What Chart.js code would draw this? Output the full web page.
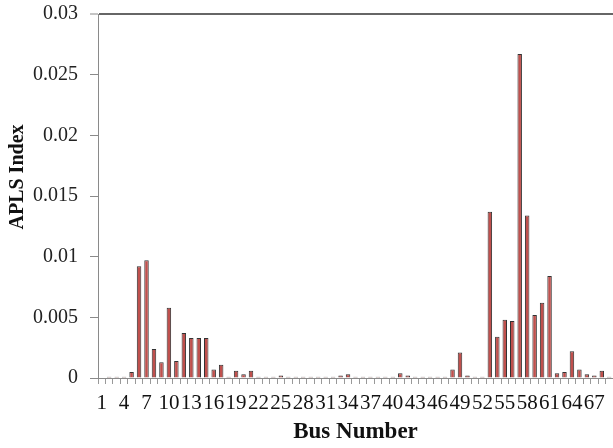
<!DOCTYPE html>
<html>
<head>
<meta charset="utf-8">
<script src="https://cdn.jsdelivr.net/npm/chart.js@4"></script>
<style>
  html, body { margin: 0; padding: 0; background: #fff; overflow: hidden; }
  #wrap { width: 613px; height: 448px; }
</style>
</head>
<body>
<div id="wrap"><canvas id="chart" width="613" height="448"></canvas></div>
<script>
const busNumbers = [
  1, 2, 3, 4, 5, 6, 7, 8, 9, 10, 11, 12, 13, 14, 15, 16, 17, 18, 19, 20,
  21, 22, 23, 24, 25, 26, 27, 28, 29, 30, 31, 32, 33, 34, 35, 36, 37, 38, 39, 40,
  41, 42, 43, 44, 45, 46, 47, 48, 49, 50, 51, 52, 53, 54, 55, 56, 57, 58, 59, 60,
  61, 62, 63, 64, 65, 66, 67, 68, 69
];

const aplsIndex = [
  0, 0.0001, 0.0001, 0.0001, 0.0005, 0.0092, 0.0097, 0.0024, 0.0013, 0.0058,
  0.0014, 0.0037, 0.0033, 0.0033, 0.0033, 0.0007, 0.0011, 0.0001, 0.0006, 0.0003,
  0.0006, 0.0001, 0.0001, 0.0001, 0.0002, 0.0001, 0.0001, 0.0001, 0.0001, 0.0001,
  0.0001, 0.0001, 0.0002, 0.0003, 0.0001, 0.0001, 0.0001, 0.0001, 0.0001, 0.0001,
  0.0004, 0.0002, 0.0001, 0.0001, 0.0001, 0.0001, 0.0001, 0.0007, 0.0021, 0.0002,
  0.0001, 0.0001, 0.0137, 0.0034, 0.0048, 0.0047, 0.0267, 0.0134, 0.0052, 0.0062,
  0.0084, 0.0004, 0.0005, 0.0022, 0.0007, 0.0003, 0.0002, 0.0006, 0.0001
];

const yMin = 0, yMax = 0.03, yStep = 0.005;
const labelEvery = 3;

const serif = '"Liberation Serif", "Times New Roman", serif';

// rotated y title, drawn a bit above the plot centre like the original
const yTitlePlugin = {
  id: 'yTitle',
  afterDraw(chart) {
    const c = chart.ctx;
    c.save();
    c.translate(18, 177);
    c.rotate(-Math.PI / 2);
    c.font = 'bold 20px ' + serif;
    c.fillStyle = '#111';
    c.textAlign = 'center';
    c.textBaseline = 'middle';
    c.fillText('APLS Index', 0, 0);
    c.restore();
  }
};

new Chart(document.getElementById('chart'), {
  type: 'bar',
  data: {
    labels: busNumbers,
    datasets: [{
      data: aplsIndex,
      backgroundColor: '#C0504D',
      borderColor: '#333',
      borderWidth: 1,
      barPercentage: 0.6,
      categoryPercentage: 1
    }]
  },
  options: {
    responsive: false,
    animation: false,
    layout: { padding: { top: 14, right: 0, bottom: 0, left: 0 } },
    plugins: { legend: { display: false }, tooltip: { enabled: false } },
    scales: {
      x: {
        offset: true,
        grid: { display: true, offset: true, drawOnChartArea: false, tickLength: 6, color: '#999', lineWidth: 1 },
        border: { display: true, color: '#8a8a8a', width: 1 },
        ticks: {
          autoSkip: false, maxRotation: 0, minRotation: 0, padding: 7,
          color: '#111', font: { family: serif, size: 21 },
          callback: (v, i) => i % labelEvery === 0 ? String(busNumbers[i]) : ''
        },
        title: { display: true, text: 'Bus Number', color: '#111', font: { family: serif, size: 23, weight: 'bold' }, padding: { top: 0, bottom: 2 } },
        afterFit: s => { s.height = 70; s.paddingLeft = 0; s.paddingRight = 0; }
      },
      y: {
        min: yMin, max: yMax,
        grid: {
          drawOnChartArea: true, tickLength: 8, tickWidth: 1, tickColor: '#8a8a8a',
          color: ctx => (ctx.tick && Math.abs(ctx.tick.value - yMax) < 1e-9) ? '#666' : 'rgba(0,0,0,0)',
          lineWidth: ctx => (ctx.tick && Math.abs(ctx.tick.value - yMax) < 1e-9) ? 2 : 1
        },
        border: { display: true, color: '#8a8a8a', width: 1 },
        ticks: {
          stepSize: yStep, padding: 12, color: '#222',
          font: { family: serif, size: 20 },
          callback: v => String(parseFloat(v.toFixed(3)))
        },
        afterFit: s => { s.width = 98; s.paddingTop = 0; s.paddingBottom = 0; }
      }
    }
  },
  plugins: [yTitlePlugin]
});
</script>
</body>
</html>
